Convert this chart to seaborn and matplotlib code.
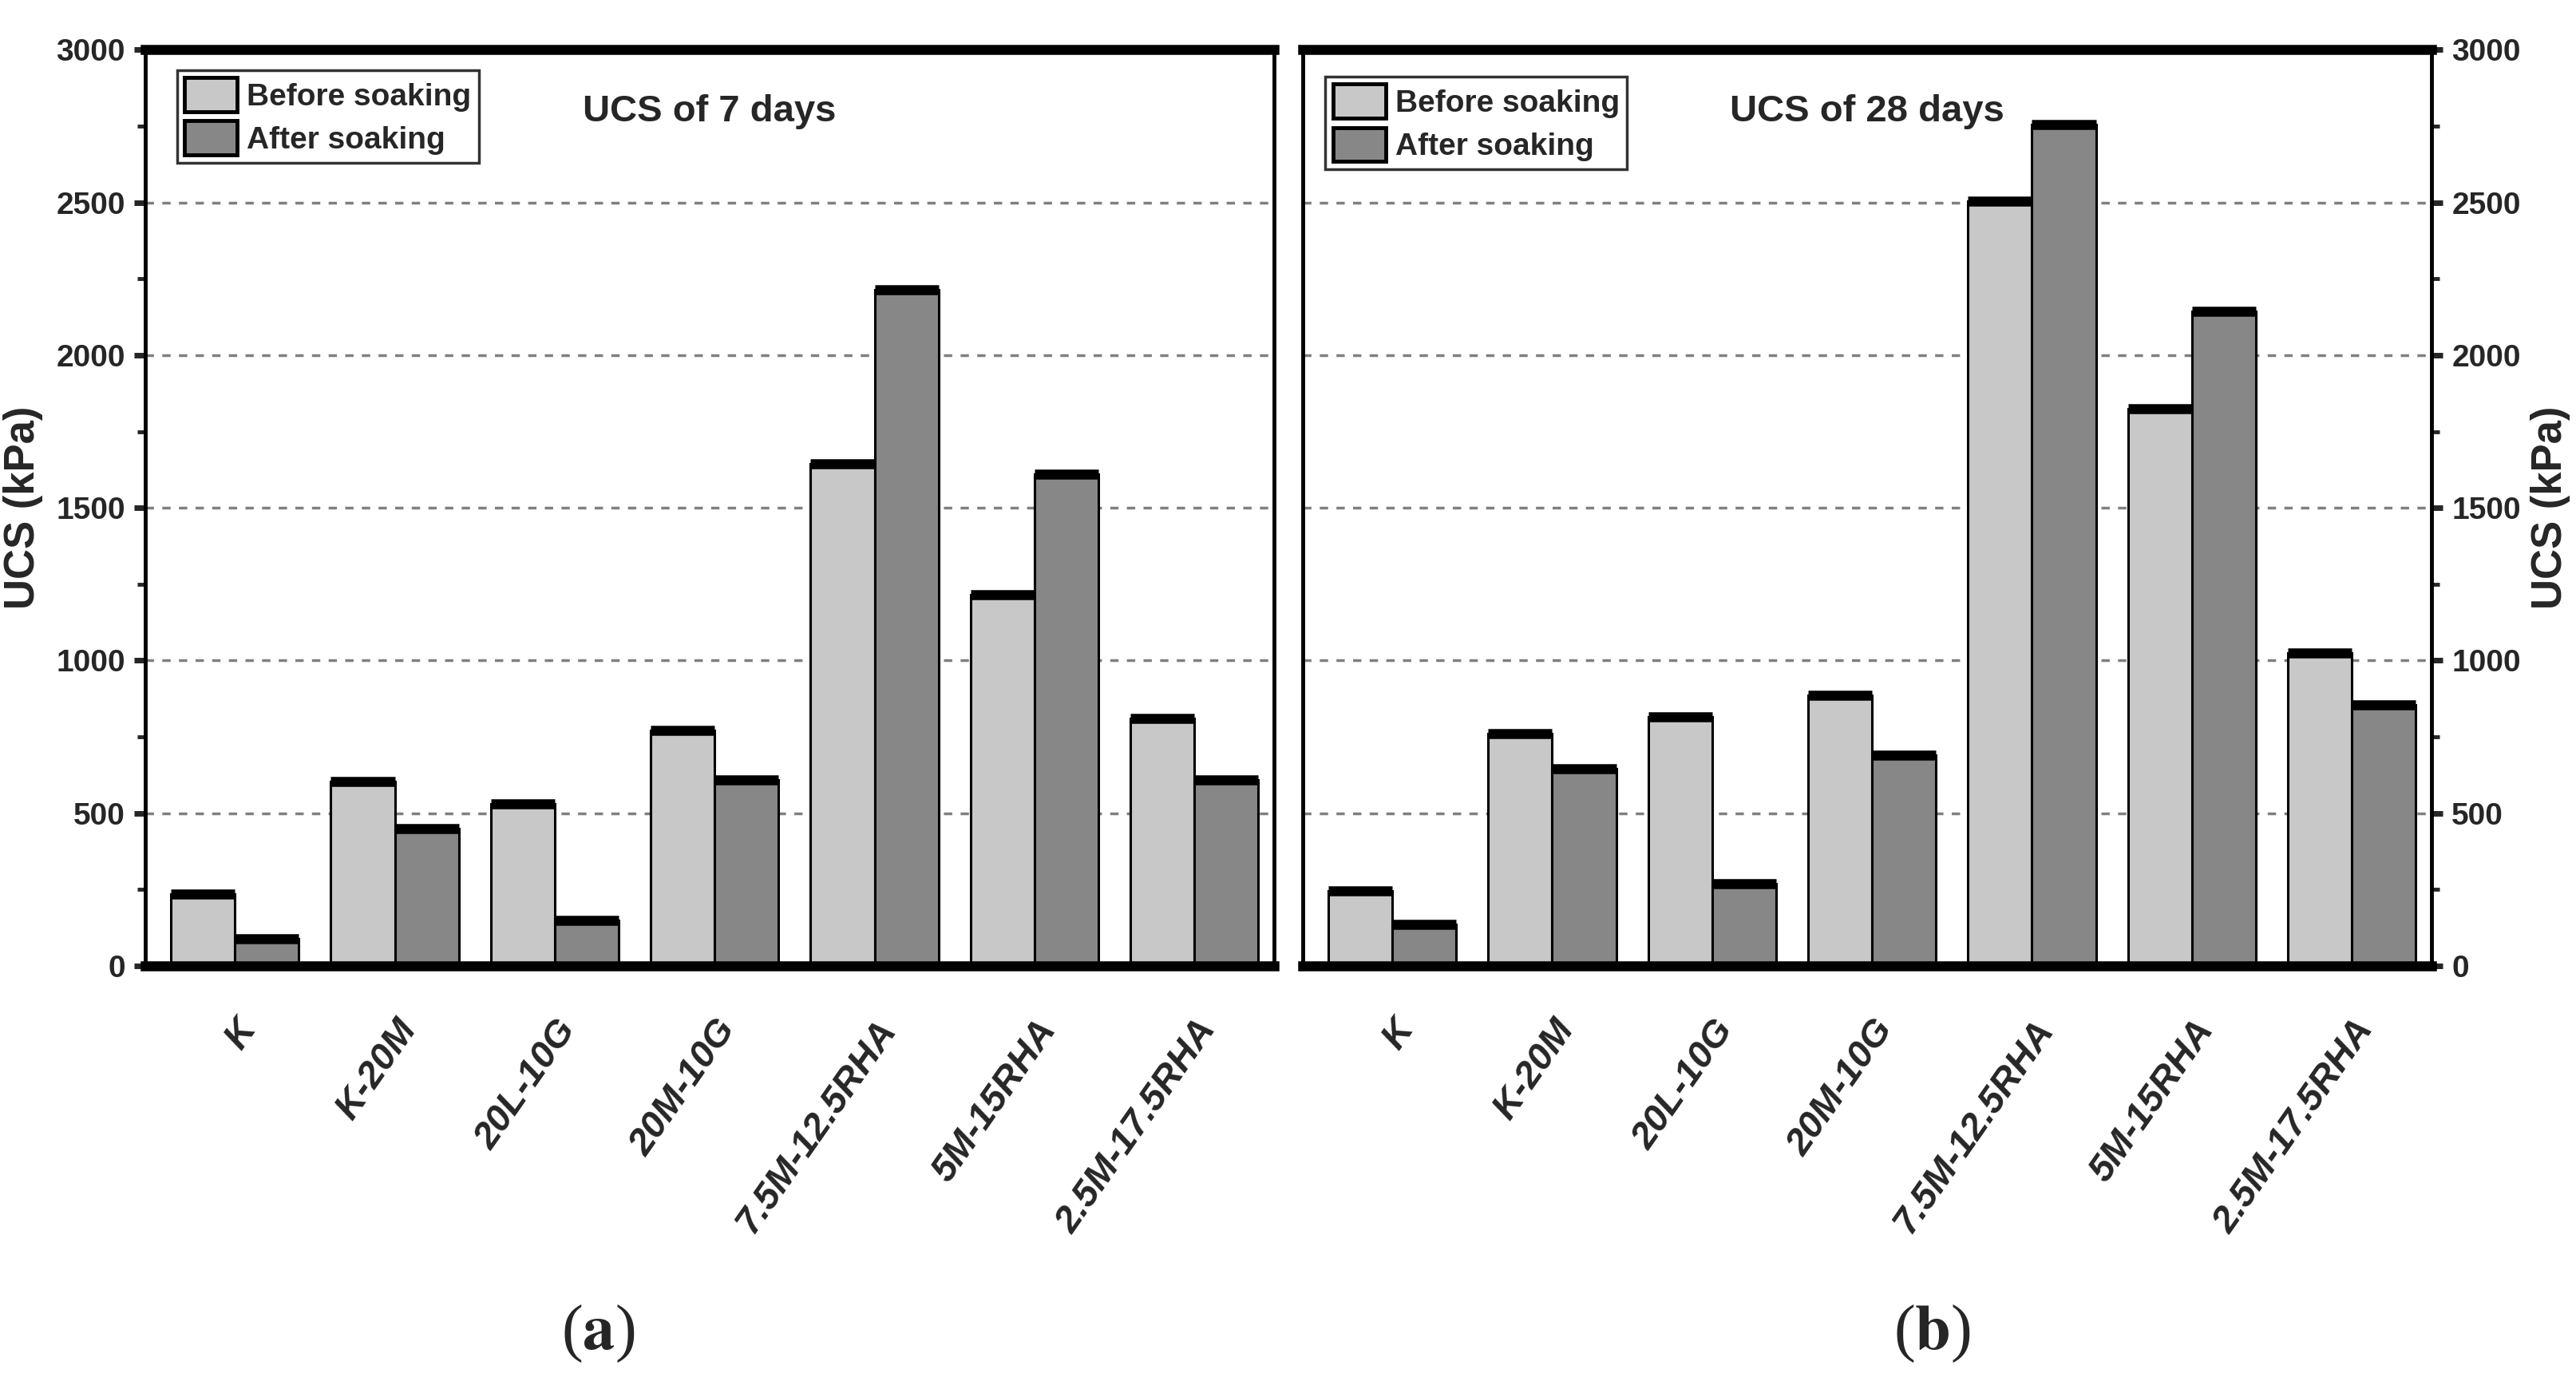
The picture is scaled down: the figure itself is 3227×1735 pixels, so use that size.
import pandas as pd
import numpy as np
import matplotlib
import matplotlib.pyplot as plt
import seaborn as sns
from matplotlib.patches import Patch
from matplotlib.ticker import MultipleLocator

mixes = ["K", "K-20M", "20L-10G", "20M-10G", "7.5M-12.5RHA", "5M-15RHA", "2.5M-17.5RHA"]
states = ["Before soaking", "After soaking"]
# UCS values (kPa)
ucs7_before = [235, 605, 530, 770, 1645, 1215, 810]
ucs7_after = [90, 450, 150, 610, 2215, 1610, 610]
ucs28_before = [245, 760, 815, 885, 2505, 1825, 1025]
ucs28_after = [135, 645, 270, 690, 2755, 2145, 855]
yticks = [0, 500, 1000, 1500, 2000, 2500, 3000]
panel_titles = ["UCS of 7 days", "UCS of 28 days"]
panel_tags = ["a", "b"]

palette = ["#c8c8c8", "#878787"]
sans = ["Liberation Sans", "DejaVu Sans"]

sns.set_style("white")
plt.rcParams["font.family"] = sans
plt.rcParams["mathtext.fontset"] = "stix"


def long_df(before, after):
    return pd.DataFrame({
        "mix": mixes * 2,
        "ucs": before + after,
        "state": [states[0]] * len(mixes) + [states[1]] * len(mixes),
    })


fig, axes = plt.subplots(1, 2, figsize=(32.27, 17.35), dpi=100)
fig.subplots_adjust(left=0.0564, right=0.944, bottom=0.3026, top=0.964, wspace=0.025)

data = [(ucs7_before, ucs7_after), (ucs28_before, ucs28_after)]

for i, ax in enumerate(axes):
    df = long_df(*data[i])
    sns.barplot(data=df, x="mix", y="ucs", hue="state", hue_order=states,
                palette=palette, saturation=1, edgecolor="black", linewidth=2.2,
                width=0.8, errorbar=None, legend=False, ax=ax, zorder=2)
    # thick black cap on each bar (Origin style)
    for p in ax.patches:
        x0 = p.get_x()
        ax.plot([x0, x0 + p.get_width()], [p.get_height()] * 2, color="black",
                lw=9, solid_capstyle="butt", zorder=3)

    ax.set_ylim(0, 3000)
    ax.set_xlim(-0.56, 6.5)
    ax.set_yticks(yticks, [str(t) for t in yticks], fontsize=28, fontweight="bold")
    ax.yaxis.set_minor_locator(MultipleLocator(250))
    ax.set_axisbelow(True)
    ax.yaxis.grid(True, which="major", linestyle=(0, (3, 3)), color="#808080", lw=2.5)
    ax.xaxis.grid(False)

    for s in ["left", "right"]:
        ax.spines[s].set_linewidth(3.5)
    for s in ["top", "bottom"]:
        ax.spines[s].set_linewidth(9)
    for s in ax.spines.values():
        s.set_color("black")

    ax.tick_params(axis="y", which="major", direction="out", length=10, width=5, pad=8)
    ax.tick_params(axis="y", which="minor", direction="out", length=7, width=3.5)
    ax.tick_params(axis="x", direction="out", length=25, width=3, pad=18)

    ax.set_xticks(range(len(mixes)))
    ax.set_xticklabels(mixes, rotation=55, ha="right", va="top", rotation_mode="anchor",
                       fontsize=34, fontweight="bold", fontstyle="italic")
    ax.set_xlabel("")
    ax.set_ylabel("")

    if i == 1:
        ax.yaxis.tick_right()
        ax.tick_params(axis="y", which="both", left=False, right=True)
    else:
        ax.tick_params(axis="y", which="both", left=True, right=False)

    ax.text(0.5, 0.932, panel_titles[i], transform=ax.transAxes, ha="center",
            va="center", fontsize=34, fontweight="bold")

    handles = [Patch(facecolor=c, edgecolor="black", linewidth=3.5) for c in palette]
    leg = ax.legend(handles, states, loc="upper left",
                    bbox_to_anchor=(0.028 if i == 0 else 0.02, 0.978 if i == 0 else 0.971),
                    prop={"weight": "bold", "size": 28},
                    frameon=True, fancybox=False, edgecolor="black",
                    handlelength=1.7, handleheight=1.3, handletextpad=0.3,
                    borderpad=0.25, labelspacing=0.3, borderaxespad=0)
    leg.get_frame().set_linewidth(2.5)

    pos = ax.get_position()
    ycen = (pos.y0 + pos.y1) / 2
    fig.text(0.009 if i == 0 else 0.99, ycen, "UCS (kPa)", rotation=90,
             ha="center", va="center", fontsize=38, fontweight="bold")

    fig.text(0.232 if i == 0 else 0.75, 0.037, f"($\\mathbf{{{panel_tags[i]}}}$)",
             ha="center", va="center", fontsize=58, family=["Liberation Serif", "DejaVu Serif"])

plt.savefig("out.png", dpi=100)
